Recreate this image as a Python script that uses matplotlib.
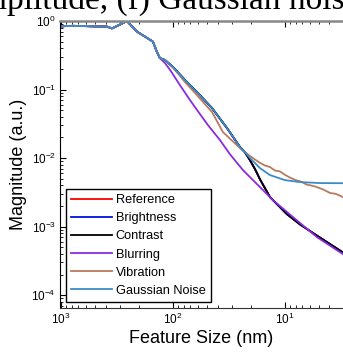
import numpy as np
import matplotlib
matplotlib.use("Agg")
import matplotlib.pyplot as plt

plt.rcParams['font.family'] = ['Liberation Sans', 'DejaVu Sans']

# shared low-frequency part (nm, magnitude)
head_nm = [1020, 900, 780, 650, 500, 390, 351, 300, 258, 209, 151, 139, 131]
head_mag = [0.83, 0.845, 0.85, 0.845, 0.835, 0.83, 0.78, 0.88, 1.0, 0.698, 0.50, 0.353, 0.288]

# gaussian noise
gauss_nm = [118, 100, 78.2, 61.1, 44.8, 32.9, 25.2, 22.8, 20.5, 16.7, 13.6, 10, 7.35, 4.87, 3.03, 2.5]
gauss_mag = [0.27, 0.213, 0.138, 0.092, 0.0537, 0.0274, 0.0145, 0.0122, 0.0100, 0.00714,
             0.00565, 0.00477, 0.00447, 0.00432, 0.0043, 0.0043]

# vibration
vib_nm = [118, 100, 78.2, 61.1, 44.8, 35.8, 25.2, 20.5, 16.7, 15.1, 13.6, 12.3, 11.1, 10, 9.02,
          8.1, 7.35, 6.36, 5.5, 4.58, 3.96, 3.5, 3.03, 2.5]
vib_mag = [0.27, 0.21, 0.129, 0.083, 0.047, 0.024, 0.014, 0.0107, 0.0085, 0.0078, 0.0074, 0.0066,
           0.0064, 0.0057, 0.0052, 0.0048, 0.0046, 0.0041, 0.0039, 0.0035, 0.0031, 0.0030, 0.0027, 0.0025]

# contrast (reference and brightness lie underneath)
con_nm = [118, 100, 78.2, 61.1, 44.8, 32.9, 25.2, 22.8, 20.5, 18.5, 16.7, 13.6, 9.6, 7.35, 5.18, 3.03, 2.5]
con_mag = [0.27, 0.213, 0.138, 0.092, 0.0537, 0.0274, 0.0145, 0.0122, 0.0093, 0.0069, 0.0049,
           0.0027, 0.00152, 0.00108, 0.00074, 0.00042, 0.00033]

# blurring
blur_nm = [118, 106, 86.6, 70.5, 57.4, 48.7, 38, 31, 23.7, 16.7, 12.8, 8.48, 5.18, 3.03, 2.5]
blur_mag = [0.244, 0.193, 0.116, 0.0703, 0.0439, 0.0303, 0.0183, 0.0114, 0.00668, 0.00377,
            0.00244, 0.00138, 0.000703, 0.000397, 0.00031]

labels = ['Reference', 'Brightness', 'Contrast', 'Blurring', 'Vibration', 'Gaussian Noise']
colors = ['#ff0000', '#0010e0', '#000000', '#8a2be2', '#b97a5e', '#3a8cc8']

def full(nm, mag):
    return np.array(head_nm + nm), np.array(head_mag + mag)

series = [full(con_nm, con_mag), full(con_nm, con_mag), full(con_nm, con_mag),
          full(blur_nm, blur_mag), full(vib_nm, vib_mag), full(gauss_nm, gauss_mag)]

fig = plt.figure(figsize=(3.43, 3.52), dpi=100)
ax = fig.add_axes([60 / 343, 44 / 352, 283 / 343, 287 / 352])

for (x, y), lab, c in zip(series, labels, colors):
    ax.plot(x, y, color=c, lw=1.3, label=lab)

ax.set_xscale('log')
ax.set_yscale('log')
ax.set_xlim(1020, 3.03)
ax.set_ylim(6.5e-5, 1.0)

ax.tick_params(which='both', direction='in', top=True, right=False, labelsize=8.5, pad=3)
ax.tick_params(which='major', length=4, width=0.8)
ax.tick_params(which='minor', length=2, width=0.6)
ax.spines['right'].set_visible(False)
ax.spines['top'].set_color('#888888')
ax.spines['top'].set_linewidth(1.8)
ax.spines['bottom'].set_color('#333333')
ax.spines['left'].set_color('#000000')
ax.spines['left'].set_linewidth(0.8)

ax.set_xlabel('Feature Size (nm)', fontsize=13, labelpad=2)
ax.set_ylabel('Magnitude (a.u.)', fontsize=13, labelpad=3)

leg = ax.legend(loc='lower left', bbox_to_anchor=(66 / 343, 50 / 352), bbox_transform=fig.transFigure,
                fontsize=9.2, frameon=True, fancybox=False, edgecolor='black', framealpha=1,
                handlelength=3.2, labelspacing=0.48, borderpad=0.4, handletextpad=0.3, borderaxespad=0)
leg.get_frame().set_linewidth(1.0)

fig.text(-19 / 343, 1 - 9 / 352, 'mplitude, (f) Gaussian noise', family='Liberation Serif',
         fontsize=24, va='baseline', ha='left')

fig.savefig('out.png', dpi=100)
